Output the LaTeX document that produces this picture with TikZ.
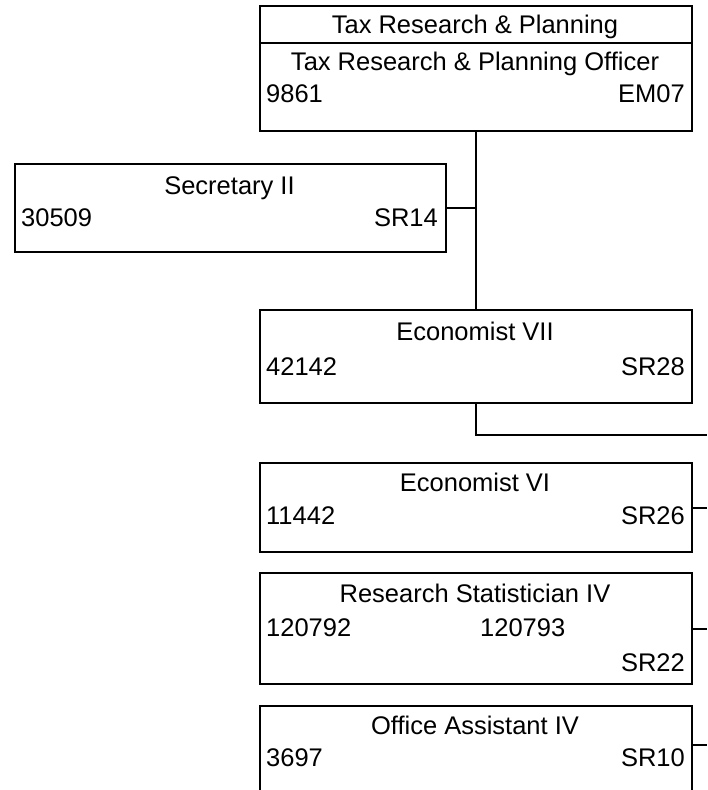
\documentclass[tikz,border=0pt]{standalone}
\usepackage{fontspec}
\setmainfont{Liberation Sans}
\begin{document}
\begin{tikzpicture}[x=1pt,y=-1pt,
 box/.style={draw,line width=2pt,rectangle,inner sep=0pt,anchor=north west},
 txt/.style={inner sep=0pt,font=\fontsize{25.5}{30}\selectfont},
 lt/.style={txt,anchor=base west},
 rt/.style={txt,anchor=base east},
 ct/.style={txt,anchor=base},
 wire/.style={line width=2pt}]
\useasboundingbox (0,0) rectangle (707,790);
\begin{scope}
\clip (0,0) rectangle (707,790);
\fill[white] (0,0) rectangle (707,790);
% boxes
\node[box,minimum width=432pt,minimum height=37pt] (topA) at (259,5) {};
\node[box,minimum width=432pt,minimum height=88pt] (topB) at (259,42) {};
\node[box,minimum width=431pt,minimum height=88pt] (sec) at (14,163) {};
\node[box,minimum width=432pt,minimum height=93pt] (e7) at (259,309) {};
\node[box,minimum width=432pt,minimum height=89pt] (e6) at (259,462) {};
\node[box,minimum width=432pt,minimum height=111pt] (rs) at (259,572) {};
\node[box,minimum width=432pt,minimum height=100pt] (oa) at (259,705) {};
% texts
\node[ct] (t1) at (475,33) {Tax Research \& Planning};
\node[ct] (t2) at (475,70) {Tax Research \& Planning Officer};
\node[lt] (t3) at (266,102) {9861};
\node[rt] (t4) at (685,102) {EM07};
\node[ct] (s1) at (229.5,194) {Secretary II};
\node[lt] (s2) at (21,226) {30509};
\node[rt] (s3) at (438,226) {SR14};
\node[ct] (a1) at (475,340) {Economist VII};
\node[lt] (a2) at (266,375) {42142};
\node[rt] (a3) at (685,375) {SR28};
\node[ct] (b1) at (475,491) {Economist VI};
\node[lt] (b2) at (266,524) {11442};
\node[rt] (b3) at (685,524) {SR26};
\node[ct] (c1) at (475,602) {Research Statistician IV};
\node[lt] (c2) at (266,636) {120792};
\node[lt] (c3) at (480,636) {120793};
\node[rt] (c4) at (685,671) {SR22};
\node[ct] (d1) at (475,734) {Office Assistant IV};
\node[lt] (d2) at (266,766) {3697};
\node[rt] (d3) at (685,766) {SR10};
% connectors
\coordinate (busR) at (707,435);
\coordinate (oaR) at (707,745);
\draw[wire] (topB.south) -- (e7.north);
\draw[wire] (sec.east) -- (sec.east -| topB.south);
\draw[wire] (e7.south) |- (busR);
\draw[wire] (e6.east) -- (e6.east -| busR);
\draw[wire] (rs.east) -- (rs.east -| busR);
\draw[wire] (oaR -| oa.east) -- (oaR);
\end{scope}
\end{tikzpicture}
\end{document}
